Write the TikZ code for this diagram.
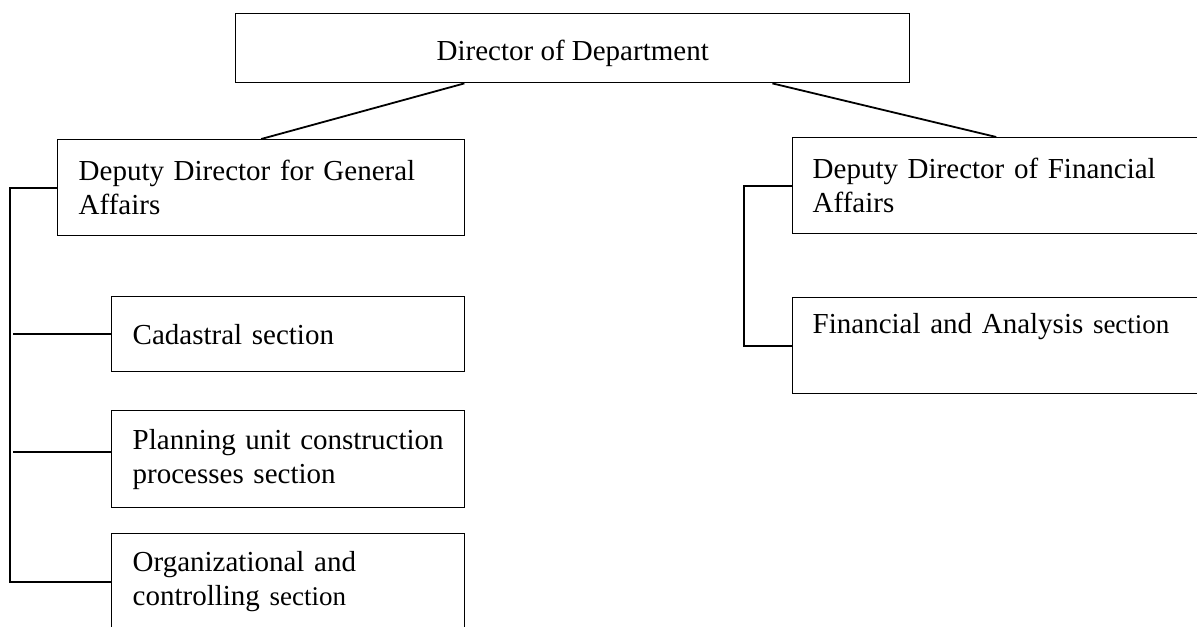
\documentclass[tikz,border=0pt]{standalone}
\usepackage{fontspec}
\setmainfont{Liberation Serif}
\newcommand{\secfont}{\fontsize{13.5}{17}\selectfont}
\tikzset{
  unit/.style={draw, line width=0.7pt, anchor=north west, align=left,
               inner xsep=10.5pt, inner ysep=0pt},
  link/.style={line width=0.9pt}
}
\begin{document}
\begin{tikzpicture}[x=0.5pt, y=-0.5pt, font=\fontsize{14.5}{17}\selectfont]
    \useasboundingbox (0,0) rectangle (1197,626);
    % head
    \node[unit, align=center, minimum width=337pt, minimum height=34.5pt,
          text height=12.5pt, text depth=0pt] (dir) at (235,13) {Director of Department};
    % deputies
    \node[unit, text width=182.5pt, minimum height=48pt] (gen) at (57,139) {Deputy Director for General\\Affairs};
    \node[unit, text width=183.5pt, inner xsep=10pt, minimum height=48pt] (fin) at (792,137) {Deputy Director of Financial\\Affairs};
    % sections
    \node[unit, text width=155.5pt, minimum height=37.5pt] (cad)  at (111,296) {Cadastral section};
    \node[unit, text width=155.5pt, minimum height=48.5pt] (plan) at (111,410) {Planning unit construction\\processes section};
    \node[unit, text width=155.5pt, minimum height=48pt]   (org)  at (111,533) {Organizational and\\controlling {\secfont section}};
    \node[unit, text width=183.5pt, inner xsep=10pt, minimum height=48pt,
          text depth=22pt] (finsec) at (792,297) {Financial and Analysis {\secfont section}};
    % connectors
    \draw[link] (dir.198) -- (gen.north);
    \draw[link] (dir.-10) -- (fin.north);
    \draw[link] (gen.west) -- ++(-47,0) |- (org.west);
    \draw[link] (cad.west) -- ++(-98,0);
    \draw[link] ([yshift=3.5pt]plan.west) -- ++(-98,0);
    \draw[link] (fin.west) -- ++(-48,0) |- (finsec.west);
\end{tikzpicture}
\end{document}
